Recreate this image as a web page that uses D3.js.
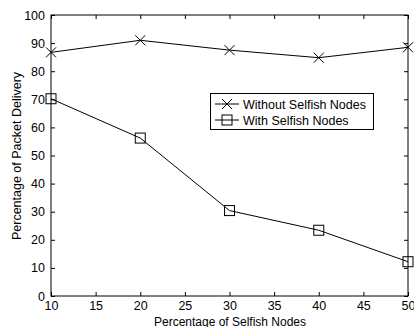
<!DOCTYPE html>
<html>
<head>
<meta charset="utf-8">
<script src="https://d3js.org/d3.v7.min.js"></script>
<style>
  html, body { margin: 0; padding: 0; background: #fff; }
  svg { display: block; font-family: "Liberation Sans", Arial, Helvetica, sans-serif; }
</style>
</head>
<body>
<svg id="chart" width="414" height="327"></svg>
<script>
// Packet delivery ratio vs. share of selfish nodes
const selfishPct = [10, 20, 30, 40, 50];
const withoutSelfish = [86.7, 91, 87.5, 84.8, 88.5];
const withSelfish = [70.2, 56.2, 30.4, 23.4, 12.2];
const xTicks = [10, 15, 20, 25, 30, 35, 40, 45, 50];
const yTicks = [0, 10, 20, 30, 40, 50, 60, 70, 80, 90, 100];
const seriesNames = ["Without Selfish Nodes", "With Selfish Nodes"];

const svg = d3.select("#chart");
const m = { left: 51, right: 408, top: 15, bottom: 296 };

const x = d3.scaleLinear().domain([10, 50]).range([m.left, m.right]);
const y = d3.scaleLinear().domain([0, 100]).range([m.bottom, m.top]);

const tickLen = 4;
const fontSize = 12.5;

// Frame
svg.append("rect")
  .attr("x", m.left).attr("y", m.top)
  .attr("width", m.right - m.left).attr("height", m.bottom - m.top)
  .attr("fill", "none").attr("stroke", "#000").attr("stroke-width", 1);

// Axes with inward ticks on all four sides
const bottomAxis = d3.axisBottom(x).tickValues(xTicks).tickSizeInner(-tickLen).tickSizeOuter(0).tickPadding(5);
const leftAxis = d3.axisLeft(y).tickValues(yTicks).tickSizeInner(-tickLen).tickSizeOuter(0).tickPadding(6);
const topAxis = d3.axisTop(x).tickValues(xTicks).tickSizeInner(-tickLen).tickSizeOuter(0).tickFormat("");
const rightAxis = d3.axisRight(y).tickValues(yTicks).tickSizeInner(-tickLen).tickSizeOuter(0).tickFormat("");

function styleAxis(g) {
  g.select(".domain").remove();
  g.selectAll("line").attr("stroke", "#000");
  g.selectAll("text").attr("fill", "#000").style("font-size", fontSize + "px")
    .style("font-family", '"Liberation Sans", Arial, Helvetica, sans-serif');
}

svg.append("g").attr("transform", `translate(0,${m.bottom})`).call(bottomAxis).call(styleAxis)
  .selectAll("text").attr("dy", "0.75em");
svg.append("g").attr("transform", `translate(${m.left},0)`).call(leftAxis).call(styleAxis);
svg.append("g").attr("transform", `translate(0,${m.top})`).call(topAxis).call(styleAxis);
svg.append("g").attr("transform", `translate(${m.right},0)`).call(rightAxis).call(styleAxis);

// Axis titles
svg.append("text")
  .attr("x", 230).attr("y", 325.5)
  .attr("text-anchor", "middle").style("font-size", "12px")
  .text("Percentage of Selfish Nodes");
svg.append("text")
  .attr("transform", `translate(21,156) rotate(-90)`)
  .attr("text-anchor", "middle").style("font-size", "12.5px")
  .text("Percentage of Packet Delivery");

// Lines
const line = d3.line().x((d, i) => x(selfishPct[i])).y(d => y(d));
svg.append("path").datum(withoutSelfish).attr("d", line)
  .attr("fill", "none").attr("stroke", "#000").attr("stroke-width", 1);
svg.append("path").datum(withSelfish).attr("d", line)
  .attr("fill", "none").attr("stroke", "#000").attr("stroke-width", 1);

// Markers
const xs = 5;
function crossMarker(g, cx, cy) {
  g.append("path")
    .attr("d", `M${cx - xs},${cy - xs}L${cx + xs},${cy + xs}M${cx - xs},${cy + xs}L${cx + xs},${cy - xs}`)
    .attr("stroke", "#000").attr("stroke-width", 1).attr("fill", "none");
}
function squareMarker(g, cx, cy) {
  g.append("rect")
    .attr("x", cx - 5).attr("y", cy - 5).attr("width", 10).attr("height", 10)
    .attr("fill", "none").attr("stroke", "#000").attr("stroke-width", 1);
}
const markers = svg.append("g");
withoutSelfish.forEach((v, i) => crossMarker(markers, x(selfishPct[i]), y(v)));
withSelfish.forEach((v, i) => squareMarker(markers, x(selfishPct[i]), y(v)));

// Legend
const lg = svg.append("g");
lg.append("rect").attr("x", 210.5).attr("y", 93.5).attr("width", 163).attr("height", 36)
  .attr("fill", "#fff").attr("stroke", "#000").attr("stroke-width", 1);
const rowY = [104, 120];
rowY.forEach((ry, i) => {
  lg.append("line").attr("x1", 215).attr("x2", 239).attr("y1", ry).attr("y2", ry)
    .attr("stroke", "#000").attr("stroke-width", 1);
  if (i === 0) crossMarker(lg, 227, ry); else squareMarker(lg, 227, ry);
  lg.append("text").attr("x", 243).attr("y", ry + 4.5).style("font-size", "12.5px")
    .text(seriesNames[i]);
});
</script>
</body>
</html>
